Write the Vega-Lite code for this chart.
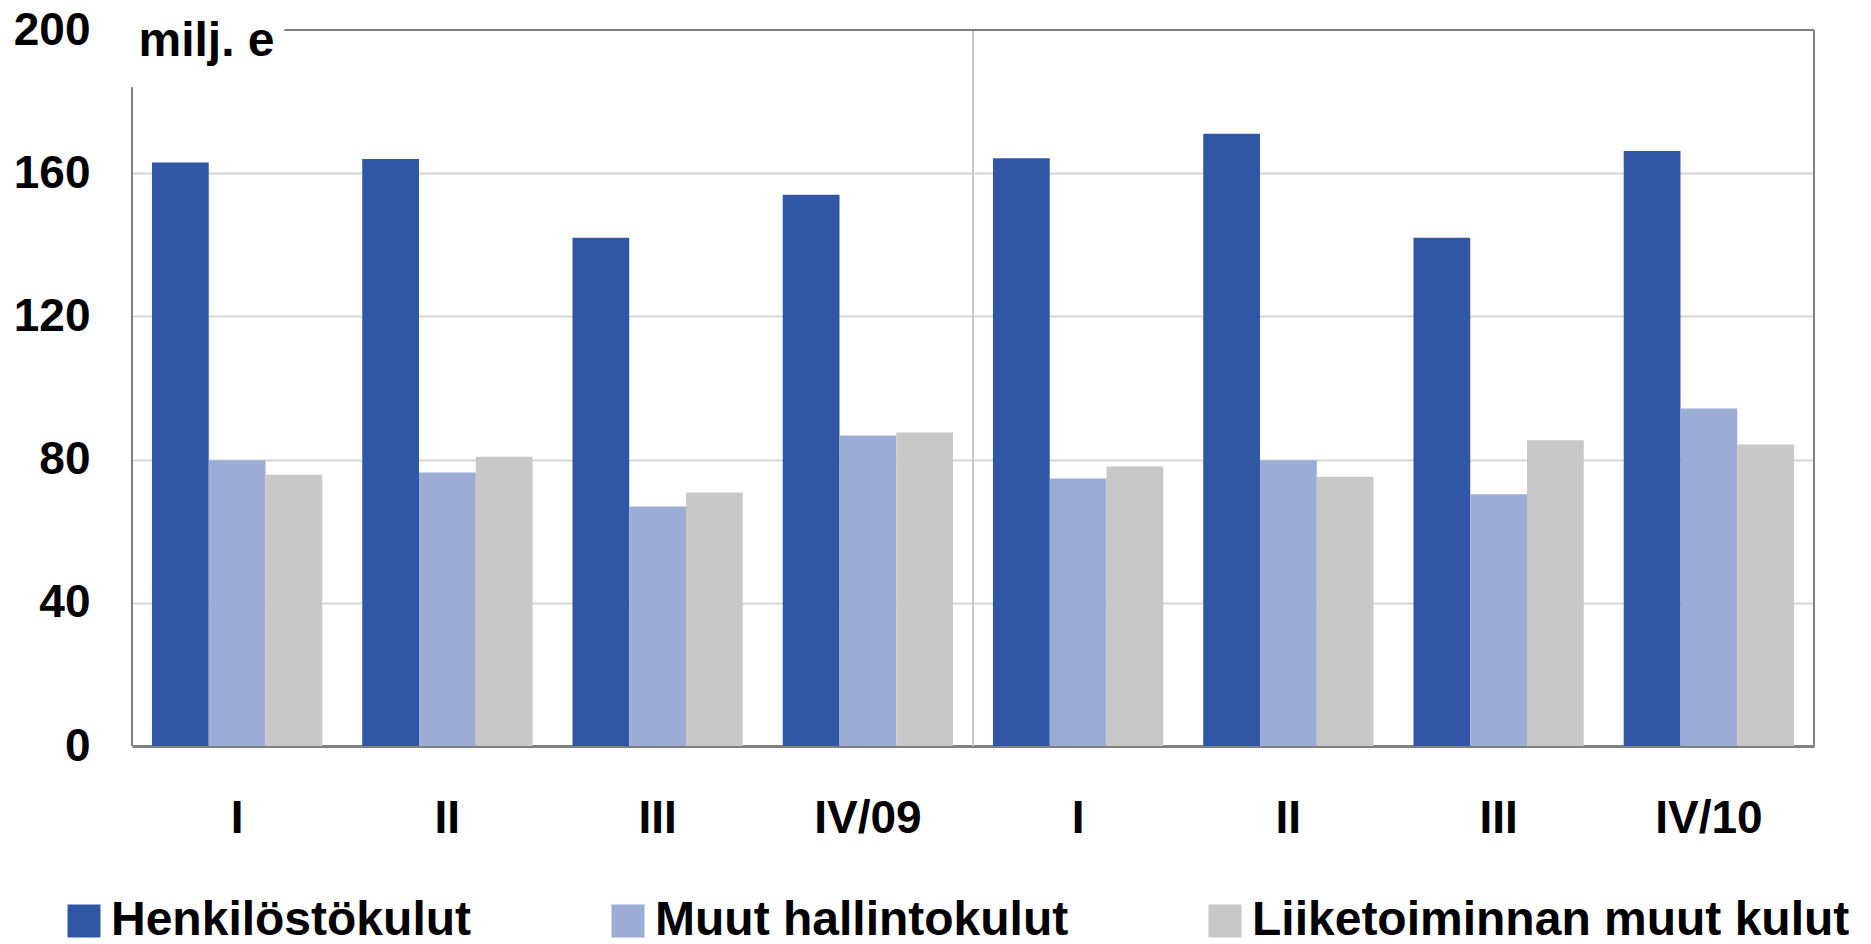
{
  "$schema": "https://vega.github.io/schema/vega-lite/v6.json",
  "width": 1682,
  "height": 716,
  "autosize": {"type": "none"},
  "padding": {"left": 132, "top": 30, "right": 57, "bottom": 198},
  "background": "white",
  "config": {
    "view": {"stroke": null},
    "font": "Liberation Sans",
    "axis": {"labelFont": "Liberation Sans", "labelFontWeight": "bold", "labelColor": "black", "titleFont": "Liberation Sans"},
    "legend": {"labelFont": "Liberation Sans", "labelFontWeight": "bold", "labelColor": "black"}
  },
  "layer": [
    {
      "data": {
        "values": [
          {"q": "I_09", "s": "Henkilöstökulut", "v": 163.0},
          {"q": "I_09", "s": "Muut hallintokulut", "v": 79.8},
          {"q": "I_09", "s": "Liiketoiminnan muut kulut", "v": 75.8},
          {"q": "II_09", "s": "Henkilöstökulut", "v": 164.0},
          {"q": "II_09", "s": "Muut hallintokulut", "v": 76.4},
          {"q": "II_09", "s": "Liiketoiminnan muut kulut", "v": 80.8},
          {"q": "III_09", "s": "Henkilöstökulut", "v": 142.0},
          {"q": "III_09", "s": "Muut hallintokulut", "v": 66.9},
          {"q": "III_09", "s": "Liiketoiminnan muut kulut", "v": 70.8},
          {"q": "IV/09", "s": "Henkilöstökulut", "v": 154.0},
          {"q": "IV/09", "s": "Muut hallintokulut", "v": 86.7},
          {"q": "IV/09", "s": "Liiketoiminnan muut kulut", "v": 87.6},
          {"q": "I_10", "s": "Henkilöstökulut", "v": 164.2},
          {"q": "I_10", "s": "Muut hallintokulut", "v": 74.7},
          {"q": "I_10", "s": "Liiketoiminnan muut kulut", "v": 78.1},
          {"q": "II_10", "s": "Henkilöstökulut", "v": 171.0},
          {"q": "II_10", "s": "Muut hallintokulut", "v": 79.8},
          {"q": "II_10", "s": "Liiketoiminnan muut kulut", "v": 75.2},
          {"q": "III_10", "s": "Henkilöstökulut", "v": 142.0},
          {"q": "III_10", "s": "Muut hallintokulut", "v": 70.3},
          {"q": "III_10", "s": "Liiketoiminnan muut kulut", "v": 85.4},
          {"q": "IV/10", "s": "Henkilöstökulut", "v": 166.2},
          {"q": "IV/10", "s": "Muut hallintokulut", "v": 94.3},
          {"q": "IV/10", "s": "Liiketoiminnan muut kulut", "v": 84.2}
        ]
      },
      "mark": {"type": "bar"},
      "encoding": {
        "x": {
          "field": "q", "type": "nominal", "sort": null,
          "scale": {"paddingInner": 0.19, "paddingOuter": 0.095},
          "axis": {
            "title": null, "labelAngle": 0, "ticks": false, "labelFontSize": 46, "labelPadding": 50,
            "labelExpr": "indexof(datum.value,'_')>=0 ? split(datum.value,'_')[0] : datum.value",
            "domain": true, "domainColor": "#808080", "domainWidth": 3, "grid": false
          }
        },
        "xOffset": {"field": "s", "type": "nominal", "sort": ["Henkilöstökulut", "Muut hallintokulut", "Liiketoiminnan muut kulut"], "scale": {"paddingInner": 0, "paddingOuter": 0}},
        "y": {
          "field": "v", "type": "quantitative",
          "scale": {"domain": [0, 200], "nice": false},
          "axis": {
            "values": [0, 40, 80, 120, 160, 200], "domain": false, "ticks": false,
            "labelFontSize": 46, "labelPadding": 42, "labelBaseline": "middle",
            "grid": true, "gridWidth": 2,
            "gridColor": {"condition": {"test": "datum.value == 200 || datum.value == 0", "value": "transparent"}, "value": "#d6d6d6"},
            "title": "milj. e", "titleAngle": 0, "titleAlign": "left", "titleBaseline": "alphabetic",
            "titleX": 6, "titleY": 25, "titleFontSize": 48, "titleFontWeight": "bold", "titleColor": "black"
          }
        },
        "color": {
          "field": "s", "type": "nominal",
          "sort": ["Henkilöstökulut", "Muut hallintokulut", "Liiketoiminnan muut kulut"],
          "scale": {"domain": ["Henkilöstökulut", "Muut hallintokulut", "Liiketoiminnan muut kulut"], "range": ["#3256A6", "#9CACD4", "#C8C8C8"]},
          "legend": {
            "title": null, "orient": "none", "direction": "horizontal", "legendX": -72, "legendY": 867,
            "symbolType": "square", "symbolSize": 1089, "symbolStrokeWidth": 0, "symbolOpacity": 1,
            "labelFontSize": 48, "labelOffset": 3, "labelLimit": 1000, "columnPadding": 132
          }
        }
      }
    },
    {
      "data": {"values": [{}]},
      "layer": [
        {
          "mark": {"type": "rule", "color": "#c8c8c8", "strokeWidth": 2},
          "encoding": {
            "x": {"datum": 4, "type": "quantitative", "scale": {"domain": [0, 8], "nice": false, "zero": false}, "axis": null},
            "y": {"datum": 0, "type": "quantitative"},
            "y2": {"datum": 200}
          }
        },
        {
          "mark": {"type": "rule", "color": "#808080", "strokeWidth": 2},
          "encoding": {
            "x": {"datum": 0.725, "type": "quantitative", "axis": null},
            "x2": {"datum": 8},
            "y": {"datum": 200, "type": "quantitative"}
          }
        },
        {
          "mark": {"type": "rule", "color": "#808080", "strokeWidth": 2},
          "encoding": {
            "x": {"datum": 8, "type": "quantitative", "axis": null},
            "y": {"datum": 0, "type": "quantitative"},
            "y2": {"datum": 200}
          }
        },
        {
          "mark": {"type": "rule", "color": "#808080", "strokeWidth": 2},
          "encoding": {
            "x": {"datum": 0, "type": "quantitative", "axis": null},
            "y": {"datum": 0, "type": "quantitative"},
            "y2": {"datum": 184}
          }
        }
      ]
    }
  ],
  "resolve": {"scale": {"x": "independent"}}
}
